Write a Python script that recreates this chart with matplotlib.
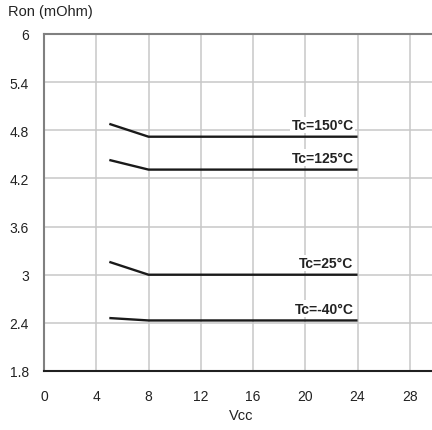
import matplotlib
matplotlib.use("Agg")
import matplotlib.pyplot as plt

plt.rcParams['font.family'] = ['Liberation Sans', 'DejaVu Sans']

vcc = [5, 8, 24]
series = {
    "Tc=150°C": [4.88, 4.72, 4.72],
    "Tc=125°C": [4.43, 4.31, 4.31],
    "Tc=25°C": [3.16, 3.0, 3.0],
    "Tc=-40°C": [2.46, 2.43, 2.43],
}
xticks = [0, 4, 8, 12, 16, 20, 24, 28]
yticks = [1.8, 2.4, 3, 3.6, 4.2, 4.8, 5.4, 6]
ytick_labels = ["1.8", "2.4", "3", "3.6", "4.2", "4.8", "5.4", "6"]

fig = plt.figure(figsize=(4.32, 4.31), dpi=100)
ax = fig.add_axes([44/432, 1 - 372/431, (432-44)/432, (372-35)/431])
ax.set_xlim(0, 29.7)
ax.set_ylim(1.8, 6)
ax.set_xticks(xticks)
ax.set_yticks(yticks)
ax.set_yticklabels(ytick_labels)
ax.grid(True, color='#c8c8c8', linewidth=1.1)
ax.set_axisbelow(True)
for s in ['left', 'top']:
    ax.spines[s].set_color('#808080')
    ax.spines[s].set_linewidth(1.5)
ax.spines['right'].set_visible(False)
ax.spines['bottom'].set_color('#202020')
ax.spines['bottom'].set_linewidth(1.5)
ax.tick_params(length=0, labelsize=10, colors='#222222')
ax.tick_params(axis='x', pad=13)
ax.tick_params(axis='y', pad=11)

for name, vals in series.items():
    ax.plot(vcc, vals, color='#1a1a1a', linewidth=1.7, solid_capstyle='butt')
    ax.text(23.7, vals[-1] + 0.06, name, ha='right', va='bottom', fontsize=10,
            fontweight='bold', color='#222222',
            bbox=dict(facecolor='white', edgecolor='none', pad=1))

ax.set_xlabel("Vcc", fontsize=10.5, color='#222222')
ax.xaxis.set_label_coords((241-44)/(432-44), -(416-372)/(372-35))
ax.xaxis.label.set_va('center')
fig.text(8/432, 1 - 12/431, "Ron (mOhm)", fontsize=10.5, color='#222222', va='center', ha='left')

fig.savefig("out.png", dpi=100)
